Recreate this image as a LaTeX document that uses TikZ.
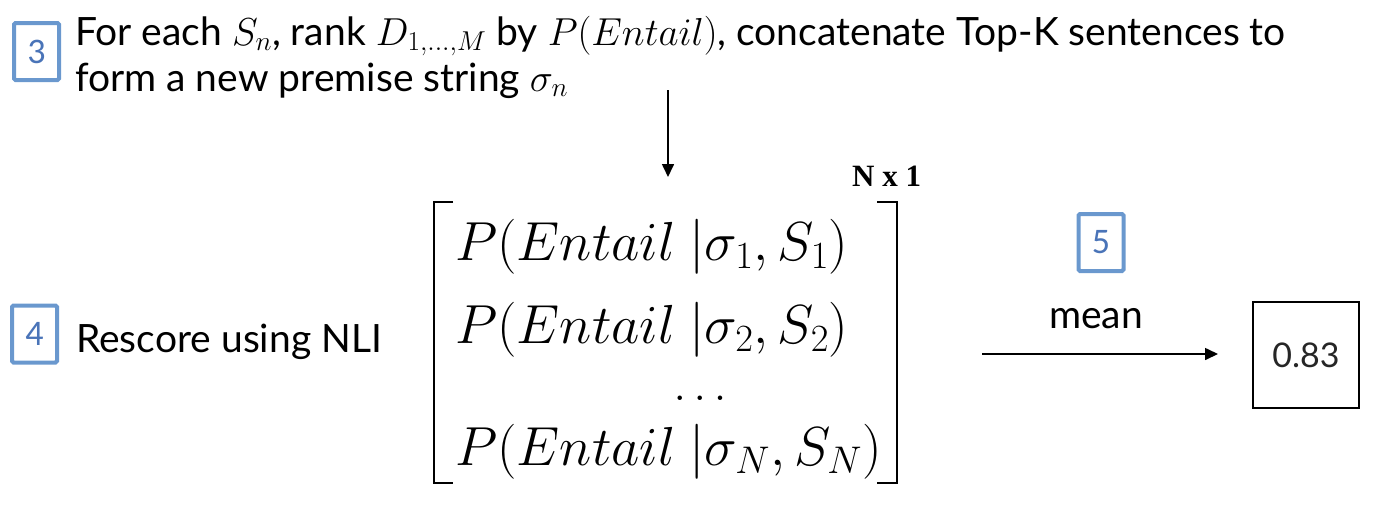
\RequirePackage{fix-cm}
\documentclass[tikz,border=0pt]{standalone}
\usepackage{fontspec}
\setmainfont{Lato}
\newfontfamily\numfont{Carlito}
\newfontfamily\dimfont{Liberation Serif}
\usetikzlibrary{arrows.meta}
\definecolor{boxblue}{HTML}{6A98CE}
\definecolor{numblue}{HTML}{4A74B8}
\definecolor{valgray}{HTML}{262626}
\begin{document}
\begin{tikzpicture}[x=1pt,y=-1pt,
  stepnum/.style={draw=boxblue,line width=4pt,rounded corners=1.5pt,minimum width=45pt,minimum height=57pt,inner sep=0pt,text=numblue,font=\numfont\fontsize{36}{36}\selectfont},
  bodytext/.style={inner sep=0pt,anchor=base west,font=\fontsize{39}{46}\selectfont},
  row/.style={inner sep=0pt,anchor=base west,font=\fontsize{55}{55}\selectfont},
  conn/.style={line width=1.6pt,-{Triangle[length=13pt,width=12pt]}},
  brk/.style={line width=2pt}
]
\useasboundingbox (0,0) rectangle (1378,504);
% step 3
\node[stepnum] (b3) at (36.5,51.5) {3};
\node[bodytext] (t3a) at (75,45) {For each $S_n$, rank $D_{1,\ldots,M}$ by $P(Entail)$, concatenate Top-K sentences to};
\node[bodytext] (t3b) at (75,91) {form a new premise string $\sigma_n$};
\coordinate (a3s) at (668,90);
\coordinate (a3e) at (668,177);
\draw[conn] (a3s) -- (a3e);
% step 4
\node[stepnum] (b4) at (34.5,334) {4};
\node[bodytext] (t4) at (76,352) {Rescore using NLI};
% matrix
\node[inner sep=0pt,anchor=base west,font=\dimfont\bfseries\fontsize{31}{31}\selectfont] (dim) at (852,186) {N x 1};
\draw[brk] (453,202) -- (434,202) -- (434,483) -- (453,483);
\draw[brk] (877,202) -- (897,202) -- (897,483) -- (877,483);
\node[row] (r1) at (455,260) {$P(Entail\ |\sigma_1, S_1)$};
\node[row] (r2) at (455,343) {$P(Entail\ |\sigma_2, S_2)$};
\node[row,anchor=base,font=\fontsize{46}{46}\selectfont] (rd) at (700,400) {$\ldots$};
\node[row] (rn) at (455,465) {$P(Entail\ |\sigma_N, S_N)$};
% step 5
\node[stepnum] (b5) at (1101,242.5) {5};
\node[inner sep=0pt,anchor=base,font=\fontsize{39}{39}\selectfont] (mean) at (1096,328) {mean};
\node[draw,line width=2pt,minimum width=106pt,minimum height=106pt,inner sep=0pt,text=valgray,font=\fontsize{34}{34}\selectfont] (res) at (1306,355) {0.83};
\coordinate (a5s) at (982,354);
\coordinate (a5e) at (1218,354);
\draw[conn] (a5s) -- (a5e);
\end{tikzpicture}
\end{document}
